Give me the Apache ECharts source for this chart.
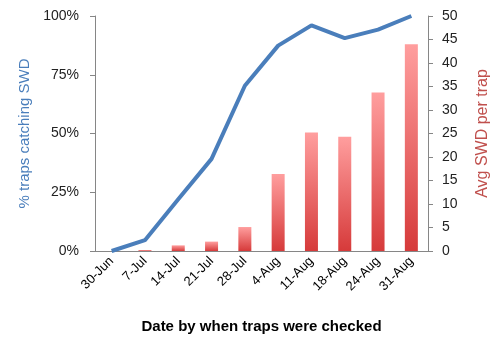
<!DOCTYPE html>
<html>
<head>
<meta charset="utf-8">
<script src="https://cdn.jsdelivr.net/npm/echarts@6/dist/echarts.min.js"></script>
<style>
  html, body { margin: 0; padding: 0; background: #fff; }
  #chart { width: 500px; height: 353px; }
</style>
</head>
<body>
<div id="chart"></div>
<script>
const dates = ['30-Jun', '7-Jul', '14-Jul', '21-Jul', '28-Jul', '4-Aug', '11-Aug', '18-Aug', '24-Aug', '31-Aug'];
// % of traps catching SWD (left axis)
const pctTraps = [0, 4.6, 22, 39.2, 70.3, 87.4, 96, 90.6, 94.2, 100];
// average SWD per trap (right axis)
const avgSwd = [0, 0.2, 1.2, 2.0, 5.1, 16.4, 25.2, 24.3, 33.7, 44];

const font = 'Liberation Sans, Arial, sans-serif';
const axisGrey = '#868686';

const chart = echarts.init(document.getElementById('chart'), null, { renderer: 'canvas' });

chart.setOption({
  animation: false,
  backgroundColor: '#fff',
  textStyle: { fontFamily: font },
  grid: { left: 95, right: 72, top: 16, bottom: 102 },
  xAxis: {
    type: 'category',
    data: dates,
    boundaryGap: true,
    name: 'Date by when traps were checked',
    nameLocation: 'middle',
    nameGap: 68,
    nameTextStyle: { fontSize: 15, fontWeight: 'bold', color: '#000', fontFamily: font },
    axisLine: { lineStyle: { color: axisGrey } },
    axisTick: { length: 5, lineStyle: { color: axisGrey } },
    axisLabel: { rotate: 45, fontSize: 13, color: '#000', margin: 8 }
  },
  yAxis: [
    {
      type: 'value',
      min: 0,
      max: 100,
      interval: 25,
      name: '% traps catching SWD',
      nameLocation: 'middle',
      nameRotate: 90,
      nameGap: 60,
      nameTextStyle: { fontSize: 15, color: '#4A7EBB', fontFamily: font },
      axisLine: { show: true, lineStyle: { color: axisGrey } },
      axisTick: { show: true, length: 5, lineStyle: { color: axisGrey } },
      axisLabel: { formatter: '{value}%', fontSize: 14, color: '#222', margin: 16 },
      splitLine: { show: false }
    },
    {
      type: 'value',
      min: 0,
      max: 50,
      interval: 5,
      position: 'right',
      name: 'Avg SWD per trap',
      nameLocation: 'middle',
      nameRotate: 90,
      nameGap: 47,
      nameTextStyle: { fontSize: 16, color: '#C0504D', fontFamily: font },
      axisLine: { show: true, lineStyle: { color: axisGrey } },
      axisTick: { show: true, length: 5, lineStyle: { color: axisGrey } },
      axisLabel: { fontSize: 14, color: '#222', margin: 14 },
      splitLine: { show: false }
    }
  ],
  series: [
    {
      type: 'bar',
      yAxisIndex: 1,
      data: avgSwd,
      barWidth: 13,
      itemStyle: {
        color: new echarts.graphic.LinearGradient(0, 0, 0, 1, [
          { offset: 0, color: '#FF9E9E' },
          { offset: 1, color: '#D63A3A' }
        ])
      }
    },
    {
      type: 'line',
      yAxisIndex: 0,
      data: pctTraps,
      showSymbol: false,
      symbol: 'none',
      z: 3,
      lineStyle: { color: '#4A7EBB', width: 4 }
    }
  ]
});
</script>
</body>
</html>
